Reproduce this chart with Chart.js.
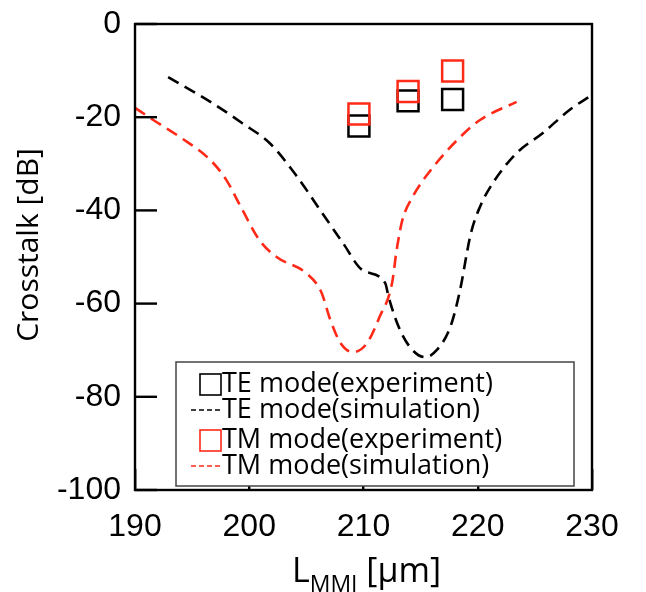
<!DOCTYPE html>
<html>
<head>
<meta charset="utf-8">
<script src="https://cdn.jsdelivr.net/npm/chart.js@4.4.1/dist/chart.umd.min.js"></script>
<style>
  html, body { margin: 0; padding: 0; background: #fff; }
  #wrap { width: 646px; height: 592px; }
</style>
</head>
<body>
<div id="wrap"><canvas id="myChart" width="646" height="592"></canvas></div>
<script>
// measured values (x in um, y in dB)
const teExpX = [209.6, 213.9, 217.8];
const teExpY = [-21.9, -16.5, -16.2];
const tmExpX = [209.6, 213.9, 217.8];
const tmExpY = [-19.3, -14.5, -10.1];

const teSimX = [192.9, 196.6, 199.4, 201.8, 204.2, 206.2, 208.2, 209.9, 211.9, 212.2, 213.2, 214.3, 215.4, 216.4, 217.6, 218.4, 219.4, 220.2, 221.3, 223.4, 225.7, 228.0, 230.0];
const teSimY = [-11.4, -16.7, -21.3, -25.6, -32.8, -39.9, -47.0, -52.8, -55.6, -58.6, -65.7, -70.0, -71.5, -70.0, -65.0, -57.7, -44.9, -39.2, -34.2, -27.7, -23.4, -18.5, -15.2];

const tmSimX = [190.0, 191.6, 193.9, 196.6, 198.0, 199.4, 200.9, 202.4, 205.0, 206.3, 207.1, 208.0, 209.1, 210.3, 211.4, 212.5, 212.9, 213.4, 214.3, 216.1, 218.2, 220.2, 223.4];
const tmSimY = [-18.0, -20.6, -24.2, -29.2, -33.5, -39.9, -46.4, -50.0, -53.5, -57.5, -63.5, -68.5, -70.4, -68.5, -62.9, -55.6, -48.5, -42.1, -37.1, -30.7, -24.9, -20.6, -16.7];

const xTicks = [190, 200, 210, 220, 230];
const yTicks = [0, -20, -40, -60, -80, -100];

const RED = 'rgb(255,42,24)';
const pts = (xs, ys) => xs.map((x, i) => ({x: x, y: ys[i]}));

const data = {
  datasets: [
    {
      label: 'TE mode(experiment)', type: 'scatter', data: pts(teExpX, teExpY),
      pointStyle: 'rect', pointRadius: 14.8, borderColor: '#000', backgroundColor: 'rgba(0,0,0,0)',
      borderWidth: 2.5, order: 1
    },
    {
      label: 'TE mode(simulation)', type: 'line', data: pts(teSimX, teSimY),
      borderColor: '#000', borderWidth: 2.6, borderDash: [12, 7], pointRadius: 0,
      cubicInterpolationMode: 'monotone', fill: false, order: 3
    },
    {
      label: 'TM mode(experiment)', type: 'scatter', data: pts(tmExpX, tmExpY),
      pointStyle: 'rect', pointRadius: 14.8, borderColor: RED, backgroundColor: 'rgba(0,0,0,0)',
      borderWidth: 2.5, order: 0
    },
    {
      label: 'TM mode(simulation)', type: 'line', data: pts(tmSimX, tmSimY),
      borderColor: RED, borderWidth: 2.6, borderDash: [12, 7], pointRadius: 0,
      cubicInterpolationMode: 'monotone', fill: false, order: 2
    }
  ]
};

// frame, legend box and axis titles
const decor = {
  id: 'decor',
  afterDraw(chart) {
    const ctx = chart.ctx;
    const a = chart.chartArea;
    const ys = chart.scales.y;
    ctx.save();
    ctx.setLineDash([]);
    ctx.strokeStyle = '#000';
    ctx.lineWidth = 2.4;
    ctx.strokeRect(a.left, a.top, a.right - a.left, a.bottom - a.top);

    // left tick marks, drawn as filled bars
    ctx.fillStyle = '#000';
    yTicks.forEach(t => {
      const py = ys.getPixelForValue(t);
      ctx.fillRect(a.left, py - 1.2, 22, 2.4);
    });

    // legend
    const lx = 176, ly = 362;
    const lw = 398, lh = 124;
    ctx.fillStyle = '#fff';
    ctx.fillRect(lx, ly, lw, lh);
    ctx.strokeStyle = '#444';
    ctx.lineWidth = 1.5;
    ctx.strokeRect(lx, ly, lw, lh);
    ctx.font = '27px "Open Sans", Lato, sans-serif';
    ctx.textBaseline = 'middle';
    ctx.textAlign = 'left';
    const rows = [22, 48, 78, 104];
    chart.data.datasets.forEach((ds, i) => {
      const cy = ly + rows[i];
      ctx.strokeStyle = ds.borderColor;
      if (ds.type === 'scatter') {
        ctx.lineWidth = 1.6;
        ctx.setLineDash([]);
        ctx.strokeRect(lx + 24, cy - 10, 21, 21);
      } else {
        ctx.lineWidth = 1.6;
        ctx.setLineDash([5, 3]);
        ctx.beginPath(); ctx.moveTo(lx + 15, cy); ctx.lineTo(lx + 47, cy); ctx.stroke();
        ctx.setLineDash([]);
      }
      ctx.fillStyle = '#000';
      ctx.fillText(ds.label, lx + 46, cy);
    });

    // axis titles
    ctx.fillStyle = '#000';
    ctx.font = '30px "Open Sans", Lato, sans-serif';
    ctx.save();
    ctx.translate(29, 245);
    ctx.rotate(-Math.PI / 2);
    ctx.textAlign = 'center';
    ctx.textBaseline = 'middle';
    ctx.fillText('Crosstalk [dB]', 0, 0);
    ctx.restore();

    const big = '34px "Open Sans", Lato, sans-serif';
    const small = '23px "Open Sans", Lato, sans-serif';
    ctx.textBaseline = 'alphabetic';
    ctx.textAlign = 'left';
    ctx.font = big; const wL = ctx.measureText('L').width;
    ctx.font = small; const wS = ctx.measureText('MMI').width;
    ctx.font = big; const wR = ctx.measureText(' [µm]').width;
    const x0 = (a.left + a.right) / 2 + 3 - (wL + wS + wR) / 2;
    const base = 582;
    ctx.font = big; ctx.fillText('L', x0, base);
    ctx.font = small; ctx.fillText('MMI', x0 + wL, base + 10);
    ctx.font = big; ctx.fillText(' [µm]', x0 + wL + wS, base);
    ctx.restore();
  }
};

// inward tick marks on the x axis: negative tick length, no lines across the plot
const gridOpts = { display: true, drawOnChartArea: false, drawTicks: true, tickLength: -21, color: '#000', lineWidth: 2.4 };

const config = {
  type: 'scatter',
  data: data,
  options: {
    responsive: false,
    animation: false,
    layout: { padding: { left: 0, top: 24, right: 54, bottom: 0 } },
    plugins: { legend: { display: false }, tooltip: { enabled: false } },
    scales: {
      x: {
        type: 'linear', min: 190, max: 230,
        afterFit: (s) => { s.height = 102; s.paddingLeft = 0; s.paddingRight = 0; },
        afterBuildTicks: (s) => { s.ticks = xTicks.map(v => ({value: v})); },
        grid: gridOpts,
        border: { display: false },
        ticks: { color: '#000', padding: 39, maxRotation: 0, font: { family: '"Liberation Sans", Arial, sans-serif', size: 32 } }
      },
      y: {
        type: 'linear', min: -100, max: 0,
        afterFit: (s) => { s.width = 135; s.paddingTop = 0; s.paddingBottom = 0; },
        afterBuildTicks: (s) => { s.ticks = yTicks.map(v => ({value: v})); },
        grid: { display: false, drawTicks: false },
        border: { display: false },
        ticks: { color: '#000', padding: 14, font: { family: '"Liberation Sans", Arial, sans-serif', size: 32 } }
      }
    }
  },
  plugins: [decor]
};

new Chart(document.getElementById('myChart'), config);
</script>
</body>
</html>
